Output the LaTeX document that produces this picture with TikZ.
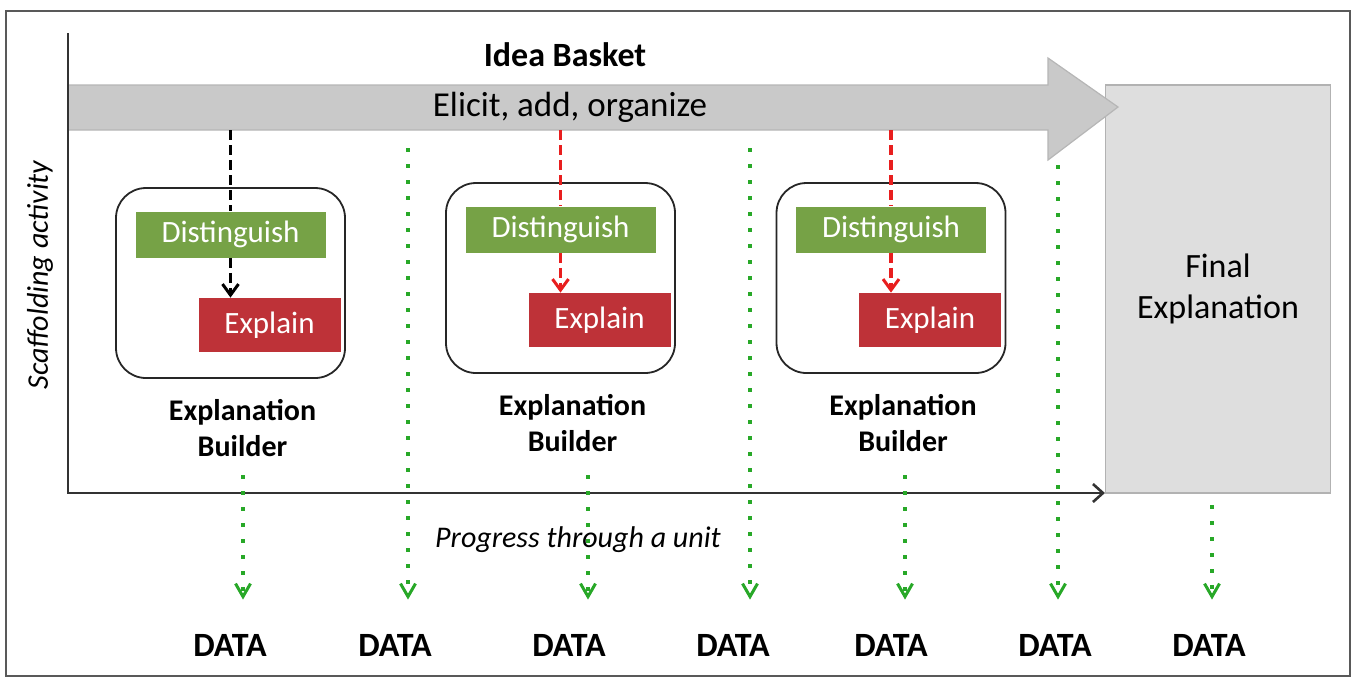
\documentclass[tikz,border=0pt]{standalone}
\usepackage{fontspec}
\setmainfont{Carlito}
\usepackage{tikz}
\usetikzlibrary{%
  positioning
 ,calc
 ,arrows.meta
}
\definecolor{bandgray}{RGB}{201,201,201}
\definecolor{bandedge}{RGB}{182,182,182}
\definecolor{finalgray}{RGB}{222,222,222}
\definecolor{finaledge}{RGB}{178,178,178}
\definecolor{distgreen}{RGB}{118,162,70}
\definecolor{explred}{RGB}{190,50,56}
\definecolor{dotgreen}{RGB}{40,168,40}
\definecolor{dashred}{RGB}{232,30,30}
\tikzstyle{frame}=[draw=black!65,line width=0.7pt]
\tikzstyle{band}=[fill=bandgray,draw=bandedge,line width=0.6pt]
\tikzstyle{title}=[inner sep=0pt,font=\bfseries\fontsize{17}{20}\selectfont]
\tikzstyle{bandtext}=[inner sep=0pt,font=\fontsize{17.5}{21}\selectfont]
\tikzstyle{finalbox}=[draw=finaledge,fill=finalgray,line width=0.6pt,minimum width=112.5pt,minimum height=204pt,align=center,inner sep=0pt,font=\fontsize{17}{20.5}\selectfont]
\tikzstyle{axis}=[draw=black!80,line width=1.1pt,-{Straight Barb[length=5pt,width=9pt,line width=1.3pt]}]
\tikzstyle{axislabel}=[inner sep=0pt,font=\itshape\fontsize{15}{18}\selectfont]
\tikzstyle{builder}=[draw=black!85,rounded corners=15pt,line width=0.9pt,minimum width=114.5pt,minimum height=95pt]
\tikzstyle{distbox}=[fill=distgreen,text=white,minimum width=95pt,minimum height=23pt,inner sep=0pt,font=\fontsize{15.5}{18}\selectfont]
\tikzstyle{explbox}=[fill=explred,text=white,minimum width=71pt,minimum height=27pt,inner sep=0pt,font=\fontsize{15.5}{18}\selectfont]
\tikzstyle{lbl}=[align=center,inner sep=0pt,font=\bfseries\fontsize{15}{18}\selectfont]
\tikzstyle{data}=[inner sep=0pt,font=\bfseries\fontsize{17}{20}\selectfont]
\tikzstyle{dataflow}=[draw=dotgreen,line width=2pt,dash pattern=on 2pt off 6pt,shorten >=17pt,-{Straight Barb[length=6.5pt,width=7.5pt,line width=1.5pt]}]
\tikzstyle{dashk}=[draw=black,line width=1.6pt,dash pattern=on 5pt off 2.5pt]
\tikzstyle{dashr}=[dashk,draw=dashred]
\tikzstyle{tip}=[-{Straight Barb[length=5.5pt,width=8pt,line width=1.5pt]}]

\begin{document}
\begin{tikzpicture}[x=0.5pt,y=-0.5pt]
  \useasboundingbox (0,0) rectangle (1353,677);
  \draw[frame] (6,11) rectangle (1350,676);
% final box, then the basket band over it
  \node[finalbox] (final) at (1218,289) {Final\\Explanation};
  \fill[band] (68,85) -- (1048,85) -- (1048,58) -- (1118,107) -- (1048,160)
    -- (1048,130) -- (68,130) -- cycle;
  \node[title]    (idea)   at (565,55)  {Idea Basket};
  \node[bandtext] (elicit) at (570,107) {Elicit, add, organize};
  \coordinate (bandbot) at (0,130);
% axes
  \coordinate (ytop)   at (68,33);
  \coordinate (origin) at (68,493);
  \draw[axis] (ytop) -- (origin) -- (final.west |- origin);
  \node[axislabel,rotate=90] (ylab) at (40,275)  {Scaffolding activity};
  \node[axislabel]           (xlab) at (578,540) {Progress through a unit};
% explanation builders
  \node[builder] (b1) at (230.5,283) {};
  \node[builder] (b2) at (560.5,278) {};
  \node[builder] (b3) at (891,278)   {};
  \node[distbox] (d1) [below=12pt of b1.north] {Distinguish};
  \node[distbox] (d2) [below=12pt of b2.north] {Distinguish};
  \node[distbox] (d3) [below=12pt of b3.north] {Distinguish};
  \node[explbox] (e1) at ($(b1)+(39,42)$) {Explain};
  \node[explbox] (e2) at ($(b2)+(39,42)$) {Explain};
  \node[explbox] (e3) at ($(b3)+(39,42)$) {Explain};
  \node[lbl] (l1) [below=10pt of b1,xshift=6pt] {Explanation\\Builder};
  \node[lbl] (l2) [below=10pt of b2,xshift=6pt] {Explanation\\Builder};
  \node[lbl] (l3) [below=10pt of b3,xshift=6pt] {Explanation\\Builder};
%
  \draw[dashk] (d1 |- bandbot) -- (d1.north);
  \draw[dashk,tip] (d1.south) -- (d1 |- e1.north);
  \draw[dashr] (d2 |- bandbot) -- (d2.north);
  \draw[dashr,tip] (d2.south) -- (d2 |- e2.north);
  \draw[dashr] (d3 |- bandbot) -- (d3.north);
  \draw[dashr,tip] (d3.south) -- (d3 |- e3.north);
% data
  \node[data] (da1) at (230,645)  {DATA};
  \node[data] (da2) at (395,645)  {DATA};
  \node[data] (da3) at (569,645)  {DATA};
  \node[data] (da4) at (733,645)  {DATA};
  \node[data] (da5) at (891,645)  {DATA};
  \node[data] (da6) at (1055,645) {DATA};
  \node[data] (da7) at (1209,645) {DATA};
  \coordinate (s1) at (243,475);
  \coordinate (s2) at (408,148);
  \coordinate (s3) at (588,475);
  \coordinate (s4) at (750,148);
  \coordinate (s5) at (905,475);
  \coordinate (s6) at (1058,165);
  \coordinate (s7) at (1212,505);
  \draw[dataflow] (s1) -- (s1 |- da1.north);
  \draw[dataflow] (s2) -- (s2 |- da2.north);
  \draw[dataflow] (s3) -- (s3 |- da3.north);
  \draw[dataflow] (s4) -- (s4 |- da4.north);
  \draw[dataflow] (s5) -- (s5 |- da5.north);
  \draw[dataflow] (s6) -- (s6 |- da6.north);
  \draw[dataflow] (s7) -- (s7 |- da7.north);

\end{tikzpicture}
\end{document}
